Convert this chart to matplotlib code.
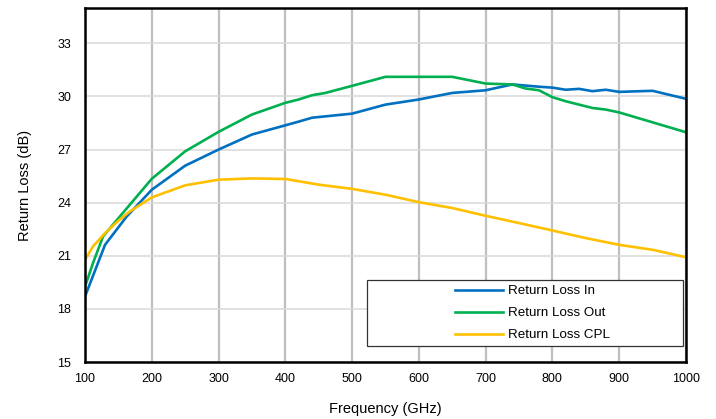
import matplotlib
matplotlib.use("Agg")
import matplotlib.pyplot as plt
from matplotlib.patches import Rectangle

plt.rcParams['font.family'] = ['Liberation Sans', 'DejaVu Sans']

# Return Loss In
f_in = [100, 130, 162, 200, 250, 300, 350, 400, 420, 440, 500, 550, 600, 650, 700,
        740, 780, 800, 820, 840, 860, 880, 900, 950, 1000]
rl_in = [18.7, 21.62, 23.2, 24.73, 26.09, 27.0, 27.85, 28.37, 28.58, 28.8, 29.03, 29.54,
         29.83, 30.2, 30.35, 30.68, 30.55, 30.5, 30.38, 30.43, 30.3, 30.38, 30.26, 30.32, 29.87]

# Return Loss Out
f_out = [100, 112, 127, 167, 200, 250, 300, 350, 400, 420, 440, 460, 500, 550, 600, 650,
         700, 740, 760, 780, 800, 820, 860, 880, 900, 950, 1000]
rl_out = [19.26, 20.59, 22.09, 23.88, 25.35, 26.9, 28.0, 28.98, 29.64, 29.83, 30.07, 30.2, 30.6,
          31.11, 31.11, 31.11, 30.73, 30.68, 30.45, 30.35, 29.96, 29.73, 29.35, 29.26, 29.1,
          28.54, 27.98]

# Return Loss CPL
f_cpl = [100, 112, 130, 150, 167, 200, 250, 300, 350, 400, 450, 500, 550, 600, 650, 700, 750,
         800, 850, 900, 950, 1000]
rl_cpl = [20.77, 21.53, 22.28, 22.98, 23.5, 24.3, 24.98, 25.3, 25.37, 25.34, 25.02, 24.78, 24.45,
          24.03, 23.7, 23.26, 22.85, 22.43, 22.0, 21.62, 21.34, 20.92]

xticks = [100, 200, 300, 400, 500, 600, 700, 800, 900, 1000]
yticks = [15, 18, 21, 24, 27, 30, 33]

fig = plt.figure(figsize=(7.16, 4.19), dpi=100)
ax = fig.add_axes([0.1187, 0.136, 0.8393, 0.845])

for x in xticks:
    ax.axvline(x, color='#BFBFBF', lw=1.6, zorder=1)
for y in yticks:
    ax.axhline(y, color='#D9D9D9', lw=1.1, zorder=1)

ax.plot(f_in, rl_in, color='#0070C0', lw=1.9, label='Return Loss In', zorder=3)
ax.plot(f_out, rl_out, color='#00B050', lw=1.9, label='Return Loss Out', zorder=3)
ax.plot(f_cpl, rl_cpl, color='#FFC000', lw=1.9, label='Return Loss CPL', zorder=3)

ax.set_xlim(100, 1000)
ax.set_ylim(15, 35)
ax.set_xticks(xticks)
ax.set_yticks(yticks)
ax.tick_params(length=0, labelsize=9, pad=8)
ax.tick_params(axis='y', pad=10)
for s in ax.spines.values():
    s.set_linewidth(1.8)
    s.set_color('black')
    s.set_zorder(5)

ax.set_xlabel('Frequency (GHz)', fontsize=10.5, labelpad=12)
ax.set_ylabel('Return Loss (dB)', fontsize=10.5, labelpad=18)

ax.add_patch(Rectangle((0.469, 0.045), 0.526, 0.187, transform=ax.transAxes,
                       facecolor='white', edgecolor='#333333', lw=0.9, zorder=4))
leg = ax.legend(loc='center left', bbox_to_anchor=(0.604, 0.138), frameon=False,
                fontsize=9.6, handlelength=3.6, handletextpad=0.4, borderpad=0,
                labelspacing=0.72)
leg.set_zorder(6)

fig.savefig('out.png', dpi=100)
